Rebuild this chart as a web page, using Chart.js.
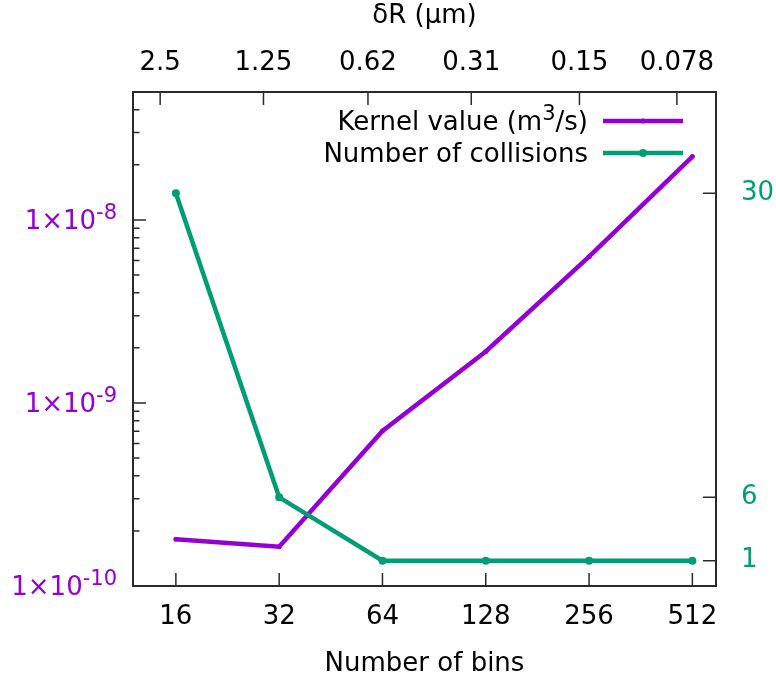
<!DOCTYPE html>
<html>
<head>
<meta charset="utf-8">
<script src="https://cdn.jsdelivr.net/npm/chart.js@4/dist/chart.umd.min.js"></script>
<style>
  html, body { margin: 0; padding: 0; background: #fff; }
  canvas { display: block; }
</style>
</head>
<body>
<canvas id="c" width="776" height="682"></canvas>
<script>
// Resolution study: kernel value and collision count versus number of bins
const bins = [16, 32, 64, 128, 256, 512];
const kernelValues = [1.80e-10, 1.64e-10, 7.03e-10, 1.91e-9, 6.30e-9, 2.22e-8];
const collisions = [30, 6, 1, 1, 1, 1];

// Tick labels
const dRTicks = [2.5, 1.25, 0.62, 0.31, 0.15, 0.078];
const kernelTicks = [1e-10, 1e-9, 1e-8];
const collisionTicks = [1, 6, 30];

const PURPLE = '#9400d3';
const GREEN = '#009e73';
const FRAME = '#2a2a2a';
const FONT = 'DejaVu Sans';
const SIZE = 26;

// Minimal rich text: "^x" or "^{xyz}" is drawn as a superscript
function parseRich(s) {
  const segs = [];
  let buf = '', i = 0;
  while (i < s.length) {
    if (s[i] === '^') {
      if (buf) { segs.push({ t: buf }); buf = ''; }
      if (s[i + 1] === '{') {
        const j = s.indexOf('}', i);
        segs.push({ t: s.slice(i + 2, j), sup: true });
        i = j + 1;
      } else {
        segs.push({ t: s[i + 1], sup: true });
        i += 2;
      }
    } else { buf += s[i]; i++; }
  }
  if (buf) segs.push({ t: buf });
  return segs;
}

function drawRich(ctx, s, x, y, align, size, color) {
  const segs = parseRich(s);
  const supSize = Math.round(size * 0.8);
  let w = 0;
  segs.forEach(g => {
    ctx.font = `${g.sup ? supSize : size}px "${FONT}"`;
    g.w = ctx.measureText(g.t).width;
    w += g.w;
  });
  let cx = align === 'right' ? x - w : align === 'center' ? x - w / 2 : x;
  const base = y + size * 0.34;
  ctx.fillStyle = color;
  ctx.textAlign = 'left';
  ctx.textBaseline = 'alphabetic';
  segs.forEach(g => {
    ctx.font = `${g.sup ? supSize : size}px "${FONT}"`;
    ctx.fillText(g.t, cx, g.sup ? base - size * 0.36 : base);
    cx += g.w;
  });
}

// Border, inward tick marks, left axis labels and the key
const framePlugin = {
  id: 'frame',
  afterDatasetsDraw(chart) {
    const { ctx, chartArea: a, scales } = chart;
    ctx.save();
    const MAJ = 13, MIN = 6.5;
    ctx.strokeStyle = FRAME;
    ctx.lineWidth = 1.5;
    ctx.beginPath();
    bins.forEach(v => {
      const x = scales.x.getPixelForValue(v);
      ctx.moveTo(x, a.bottom); ctx.lineTo(x, a.bottom - MAJ);
    });
    dRTicks.forEach(v => {
      const x = scales.x2.getPixelForValue(v);
      ctx.moveTo(x, a.top); ctx.lineTo(x, a.top + MAJ);
    });
    collisionTicks.forEach(v => {
      const y = scales.y2.getPixelForValue(v);
      ctx.moveTo(a.right, y); ctx.lineTo(a.right - MAJ, y);
    });
    const ymin = scales.y.min, ymax = scales.y.max;
    for (let e = -10; e <= -8; e++) {
      for (let m = 1; m <= 9; m++) {
        const v = m * Math.pow(10, e);
        if (v < ymin * 0.999 || v > ymax * 1.001) continue;
        const y = scales.y.getPixelForValue(v);
        ctx.moveTo(a.left, y); ctx.lineTo(a.left + (m === 1 ? MAJ : MIN), y);
      }
    }
    ctx.stroke();

    ctx.lineWidth = 2;
    ctx.strokeRect(a.left, a.top, a.right - a.left, a.bottom - a.top);

    // Left axis labels with superscript exponents
    kernelTicks.forEach(v => {
      const y = scales.y.getPixelForValue(v);
      const e = Math.round(Math.log10(v));
      drawRich(ctx, `1×10^{${e}}`, 117, y, 'right', SIZE, PURPLE);
    });

    // Key
    const rows = [121, 153];
    chart.data.datasets.forEach((ds, i) => {
      const y = rows[i];
      drawRich(ctx, ds.label, 588, y, 'right', SIZE, '#000');
      ctx.strokeStyle = ds.borderColor;
      ctx.lineWidth = ds.borderWidth;
      ctx.beginPath();
      ctx.moveTo(603, y); ctx.lineTo(683, y);
      ctx.stroke();
      ctx.fillStyle = ds.pointBackgroundColor;
      ctx.beginPath();
      ctx.arc(643, y, ds.pointRadius, 0, Math.PI * 2);
      ctx.fill();
    });
    ctx.restore();
  }
};

const tickFont = { family: FONT, size: SIZE };

new Chart(document.getElementById('c'), {
  type: 'line',
  data: {
    datasets: [
      {
        label: 'Kernel value (m^3/s)',
        data: bins.map((b, i) => ({ x: b, y: kernelValues[i] })),
        xAxisID: 'x', yAxisID: 'y',
        borderColor: PURPLE, backgroundColor: PURPLE,
        pointBackgroundColor: PURPLE, pointBorderWidth: 0,
        borderWidth: 4.5, pointRadius: 2.5,
        tension: 0, fill: false, order: 1
      },
      {
        label: 'Number of collisions',
        data: bins.map((b, i) => ({ x: b, y: collisions[i] })),
        xAxisID: 'x', yAxisID: 'y2',
        borderColor: GREEN, backgroundColor: GREEN,
        pointBackgroundColor: GREEN, pointBorderWidth: 0,
        borderWidth: 4.5, pointRadius: 4,
        tension: 0, fill: false, order: 0
      }
    ]
  },
  options: {
    responsive: false,
    animation: false,
    layout: { padding: 0, autoPadding: false },
    plugins: { legend: { display: false }, tooltip: { enabled: false } },
    scales: {
      x: {
        type: 'logarithmic', position: 'bottom', min: 12, max: 600,
        grid: { display: false }, border: { display: false },
        afterBuildTicks: s => { s.ticks = bins.map(v => ({ value: v })); },
        ticks: { callback: v => String(v), font: tickFont, color: '#000', padding: 8, maxRotation: 0, autoSkip: false },
        title: { display: true, text: 'Number of bins', font: tickFont, color: '#000', padding: { top: 0, bottom: 2 } },
        afterFit: s => { s.height = 96; }
      },
      x2: {
        type: 'logarithmic', position: 'top', reverse: true, min: 0.06, max: 3,
        grid: { display: false }, border: { display: false },
        afterBuildTicks: s => { s.ticks = dRTicks.map(v => ({ value: v })); },
        ticks: { callback: v => String(v), font: tickFont, color: '#000', padding: 5, maxRotation: 0, autoSkip: false },
        title: { display: true, text: 'δR (μm)', font: tickFont, color: '#000', padding: { top: 1, bottom: 0 } },
        afterFit: s => { s.height = 92; }
      },
      y: {
        type: 'logarithmic', position: 'left', min: 1e-10, max: 5e-8,
        grid: { display: false }, border: { display: false },
        afterBuildTicks: s => { s.ticks = kernelTicks.map(v => ({ value: v })); },
        ticks: { display: false },
        afterFit: s => { s.width = 133; }
      },
      y2: {
        type: 'linear', position: 'right', min: -1, max: 38,
        grid: { display: false }, border: { display: false },
        afterBuildTicks: s => { s.ticks = collisionTicks.map(v => ({ value: v })); },
        ticks: { font: tickFont, color: GREEN, padding: 17 },
        afterFit: s => { s.width = 60; }
      }
    }
  },
  plugins: [framePlugin]
});
</script>
</body>
</html>
